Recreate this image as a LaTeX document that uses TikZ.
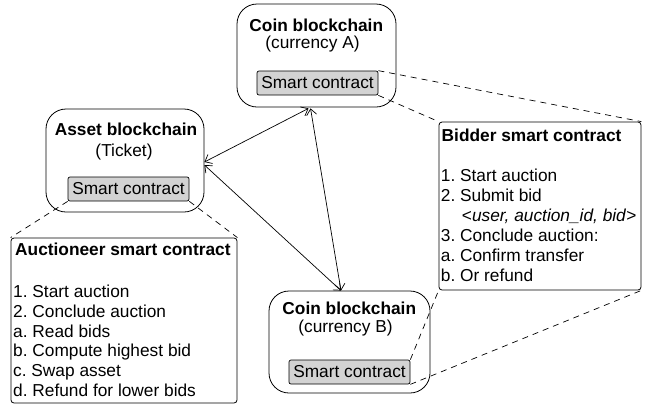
\documentclass[tikz,border=0pt]{standalone}
\usepackage{fontspec}
\setmainfont{Liberation Sans}
\usetikzlibrary{arrows.meta,calc}
\definecolor{scgray}{RGB}{211,211,211}
\frenchspacing
\begin{document}
\begin{tikzpicture}[x=1bp,y=-1bp,
  every node/.style={font=\fontsize{17.3bp}{20bp}\selectfont\frenchspacing},
  chain/.style={draw, rounded corners=20bp, line width=0.8bp, inner sep=0},
  sc/.style={draw, fill=scgray, rounded corners=2bp, line width=0.7bp, minimum width=121bp, minimum height=24bp, inner sep=0},
  panel/.style={draw, rounded corners=3bp, line width=0.8bp, inner sep=0},
  lbl/.style={anchor=base, inner sep=0},
  item/.style={anchor=base west, inner sep=0},
  boldtxt/.style={font=\fontsize{17.3bp}{20bp}\selectfont\bfseries},
  link/.style={{Straight Barb[length=6bp,width=10bp]}-{Straight Barb[length=6bp,width=10bp]}, line width=0.7bp},
  dline/.style={dash pattern=on 6bp off 5bp, line width=0.7bp}]
\useasboundingbox (0,0) rectangle (648,405);

% Coin blockchain A
\node[chain, minimum width=159bp, minimum height=103bp] (coinA) at (316.5,55.5) {};
\node[lbl, boldtxt] (coinAt) at (316.3,31) {Coin blockchain};
\node[lbl] (coinAs) at (312.5,48.5) {(currency A)};
\node[sc] (scA) at (317.5,83) {Smart contract};

% Asset blockchain
\node[chain, minimum width=158bp, minimum height=103bp] (asset) at (125,160.5) {};
\node[lbl, boldtxt] (assett) at (126,135) {Asset blockchain};
\node[lbl] (assets) at (124,156.5) {(Ticket)};
\node[sc] (scT) at (128.5,189) {Smart contract};

% Coin blockchain B
\node[chain, minimum width=161bp, minimum height=102bp] (coinB) at (349.5,342) {};
\node[lbl, boldtxt] (coinBt) at (349.3,314.3) {Coin blockchain};
\node[lbl] (coinBs) at (345.5,332.5) {(currency B)};
\node[sc] (scB) at (349.5,372) {Smart contract};

% Auctioneer panel
\node[panel, minimum width=226bp, minimum height=165bp] (auct) at (124,320.5) {};
\node[item, boldtxt] (auctt) at (15,255.7) {Auctioneer smart contract};
\foreach \t [count=\i from 0] in {1. Start auction, 2. Conclude auction, a. Read bids, b. Compute highest bid, c. Swap asset, d. Refund for lower bids}
  \node[item] (auct\i) at (13,297.5+19.8*\i) {\t};

% Bidder panel
\node[panel, minimum width=202bp, minimum height=168bp] (bidder) at (540,206) {};
\node[item, boldtxt] (biddert) at (441.5,141.7) {Bidder smart contract};
\node[item] (bid0) at (440.7,181.7) {1. Start auction};
\node[item] (bid1) at (440.7,201.7) {2. Submit bid};
\node[item] (bid2) at (461.7,221.7) {<\textit{user, auction\_id, bid}>};
\node[item] (bid3) at (440.7,241.7) {3. Conclude auction:};
\node[item] (bid4) at (440.7,261.7) {a. Confirm transfer};
\node[item] (bid5) at (440.7,281.7) {b. Or refund};

% dashed zoom lines
\draw[dline] (scA.north east) -- (bidder.north east);
\draw[dline] (scA.south east) -- (bidder.north west);
\draw[dline] (scB.north east) -- (bidder.south west);
\draw[dline] (scB.south east) -- (bidder.south east);
\draw[dline] (scT.south west) -- (auct.north west);
\draw[dline] (scT.south east) -- (auct.north east);

% arrows
\draw[link] ($(coinA.south)+(-8,1)$) -- ($(asset.east)+(0,1.5)$);
\draw[link] ($(asset.east)+(0,4.5)$) -- ($(coinB.north)+(-8.5,0)$);
\draw[link] ($(coinA.south)+(-6,1)$) -- ($(coinB.north)+(-8.5,0)$);
\end{tikzpicture}
\end{document}
